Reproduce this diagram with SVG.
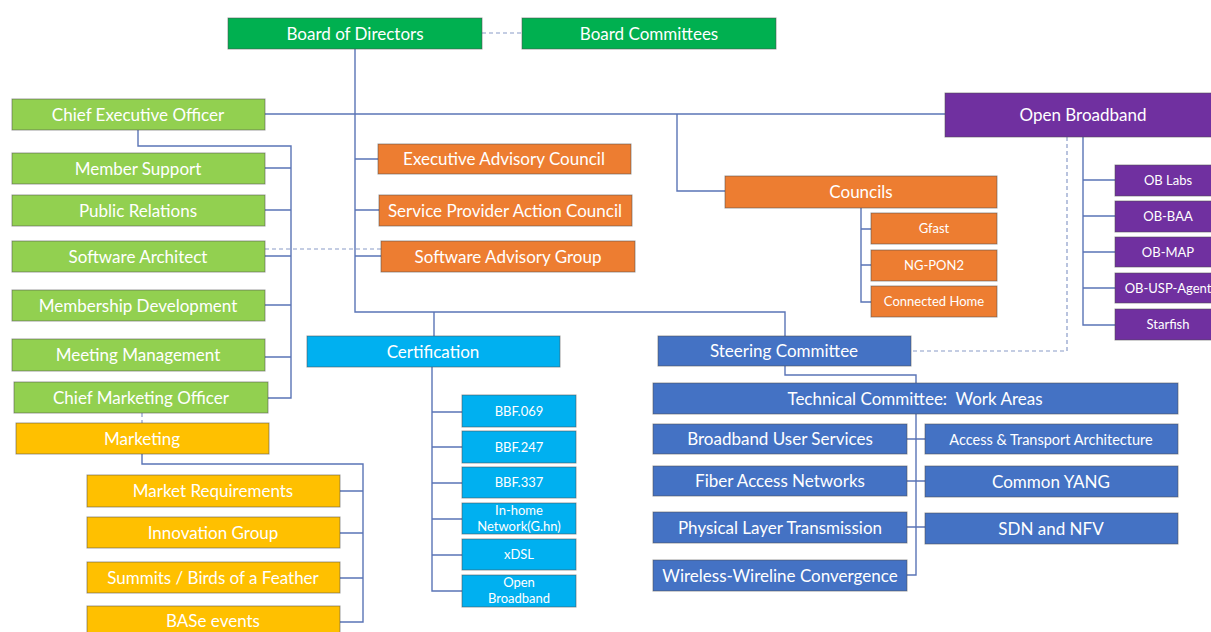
<svg xmlns="http://www.w3.org/2000/svg" width="1211" height="632" viewBox="0 0 1211 632">
<style>
.b{stroke:#4d4d4d;stroke-opacity:.55;stroke-width:1}
.g1{fill:#00b050}.g2{fill:#92d050}.or{fill:#ed7d31}.pu{fill:#7030a0}.cy{fill:#00b0f0}.bl{fill:#4472c4}.go{fill:#ffc000}
text{font-family:Lato,"Open Sans","Liberation Sans",sans-serif;fill:#ffffff;text-anchor:middle}
.t{font-size:17px}.s{font-size:13px}.m{font-size:14.5px}
.c{fill:none;stroke:#5a74b6;stroke-width:1.4}
.d{fill:none;stroke:#8a9cc8;stroke-width:1.2;stroke-dasharray:4 3}
</style>
<rect width="1211" height="632" fill="#ffffff"/>
<g id="connectors">
<path class="d" d="M482,33 H522"/>
<path class="c" d="M355,49 V312 H785 V336"/>
<path class="c" d="M434,312 V336"/>
<path class="c" d="M355,159 H378 M355,210 H379 M355,256 H381"/>
<path class="c" d="M265,114 H945"/>
<path class="c" d="M677,114 V191 H725"/>
<path class="c" d="M138,130 V146 H291 V398 H268"/>
<path class="c" d="M265,168 H291 M265,210 H291 M265,256 H291 M265,305 H291 M265,357 H291"/>
<path class="d" d="M265,249 H381"/>
<path class="d" d="M142,413 V423"/>
<path class="c" d="M142,454 V464 H363 V622 H340 M340,491 H363 M340,533 H363 M340,578 H363"/>
<path class="c" d="M861,208 V302 H871 M861,229 H871 M861,265 H871"/>
<path class="c" d="M1083,137 V325 H1115 M1083,180 H1115 M1083,216 H1115 M1083,252 H1115 M1083,288 H1115"/>
<path class="d" d="M1067,137 V351 H911"/>
<path class="c" d="M785,366 V375 H916 V575 H907 M907,439 H925 M907,481 H925 M907,527 H925"/>
<path class="c" d="M432,367 V591 H462 M432,412 H462 M432,447 H462 M432,483 H462 M432,519 H462 M432,555 H462"/>
</g>
<g id="board-of-directors"><rect class="b g1" x="228" y="18" width="254" height="31"/><text class="t" x="355" y="39.5">Board of Directors</text></g>
<g id="board-committees"><rect class="b g1" x="522" y="18" width="254" height="31"/><text class="t" x="649" y="39.5">Board Committees</text></g>
<g id="ceo"><rect class="b g2" x="12" y="99" width="253" height="31"/><text class="t" x="138" y="120.5">Chief Executive Officer</text></g>
<g id="member-support"><rect class="b g2" x="12" y="153" width="253" height="31"/><text class="t" x="138" y="174.5">Member Support</text></g>
<g id="public-relations"><rect class="b g2" x="12" y="195" width="253" height="31"/><text class="t" x="138" y="216.5">Public Relations</text></g>
<g id="software-architect"><rect class="b g2" x="12" y="241" width="253" height="31"/><text class="t" x="138" y="262.5">Software Architect</text></g>
<g id="membership-development"><rect class="b g2" x="12" y="290" width="253" height="31"/><text class="t" x="138" y="311.5">Membership Development</text></g>
<g id="meeting-management"><rect class="b g2" x="12" y="339" width="253" height="32"/><text class="t" x="138" y="361">Meeting Management</text></g>
<g id="cmo"><rect class="b g2" x="14" y="382" width="254" height="31"/><text class="t" x="141" y="403.5">Chief Marketing Officer</text></g>
<g id="marketing"><rect class="b go" x="16" y="423" width="253" height="31"/><text class="t" x="142" y="444.5">Marketing</text></g>
<g id="market-requirements"><rect class="b go" x="87" y="475" width="253" height="32"/><text class="t" x="213" y="497">Market Requirements</text></g>
<g id="innovation-group"><rect class="b go" x="87" y="517" width="253" height="31"/><text class="t" x="213" y="538.5">Innovation Group</text></g>
<g id="summits"><rect class="b go" x="87" y="562" width="253" height="31"/><text class="t" x="213" y="583.5">Summits / Birds of a Feather</text></g>
<g id="base-events"><rect class="b go" x="87" y="606" width="253" height="32"/><text class="t" x="213" y="627">BASe events</text></g>
<g id="executive-advisory-council"><rect class="b or" x="378" y="144" width="253" height="30"/><text class="t" x="504" y="165">Executive Advisory Council</text></g>
<g id="spac"><rect class="b or" x="379" y="195" width="253" height="31"/><text class="t" x="505" y="216.5">Service Provider Action Council</text></g>
<g id="software-advisory-group"><rect class="b or" x="381" y="241" width="254" height="31"/><text class="t" x="508" y="262.5">Software Advisory Group</text></g>
<g id="councils"><rect class="b or" x="725" y="176" width="272" height="32"/><text class="t" x="861" y="198">Councils</text></g>
<g id="gfast"><rect class="b or" x="871" y="213" width="126" height="31"/><text class="s" x="934" y="233">Gfast</text></g>
<g id="ng-pon2"><rect class="b or" x="871" y="250" width="126" height="31"/><text class="s" x="934" y="270">NG-PON2</text></g>
<g id="connected-home"><rect class="b or" x="871" y="286" width="126" height="31"/><text class="s" x="934" y="306">Connected Home</text></g>
<g id="open-broadband"><rect class="b pu" x="945" y="93" width="270" height="44"/><text class="t" x="1083" y="120.5">Open Broadband</text></g>
<g id="ob-labs"><rect class="b pu" x="1115" y="165" width="100" height="31"/><text class="s" x="1168" y="185">OB Labs</text></g>
<g id="ob-baa"><rect class="b pu" x="1115" y="201" width="100" height="31"/><text class="s" x="1168" y="221">OB-BAA</text></g>
<g id="ob-map"><rect class="b pu" x="1115" y="237" width="100" height="30"/><text class="s" x="1168" y="256.5">OB-MAP</text></g>
<g id="ob-usp-agent"><rect class="b pu" x="1115" y="273" width="100" height="30"/><text class="s" x="1168" y="292.5">OB-USP-Agent</text></g>
<g id="starfish"><rect class="b pu" x="1115" y="309" width="100" height="31"/><text class="s" x="1168" y="329">Starfish</text></g>
<g id="certification"><rect class="b cy" x="307" y="336" width="253" height="31"/><text class="t" x="433" y="357.5">Certification</text></g>
<g id="bbf069"><rect class="b cy" x="462" y="395" width="114" height="32"/><text class="s" x="519" y="415.5">BBF.069</text></g>
<g id="bbf247"><rect class="b cy" x="462" y="431" width="114" height="32"/><text class="s" x="519" y="451.5">BBF.247</text></g>
<g id="bbf337"><rect class="b cy" x="462" y="467" width="114" height="31"/><text class="s" x="519" y="487">BBF.337</text></g>
<g id="in-home"><rect class="b cy" x="462" y="503" width="114" height="31"/><text class="s" x="519" y="515">In-home</text><text class="s" x="519" y="531">Network(G.hn)</text></g>
<g id="xdsl"><rect class="b cy" x="462" y="539" width="114" height="31"/><text class="s" x="519" y="559">xDSL</text></g>
<g id="cert-open-broadband"><rect class="b cy" x="462" y="575" width="114" height="32"/><text class="s" x="519" y="587">Open</text><text class="s" x="519" y="603">Broadband</text></g>
<g id="steering-committee"><rect class="b bl" x="658" y="336" width="253" height="30"/><text class="t" x="784" y="357">Steering Committee</text></g>
<g id="technical-committee"><rect class="b bl" x="653" y="383" width="525" height="31"/><text class="t" x="915" y="404.5" xml:space="preserve">Technical Committee:  Work Areas</text></g>
<g id="broadband-user-services"><rect class="b bl" x="653" y="424" width="254" height="30"/><text class="t" x="780" y="445">Broadband User Services</text></g>
<g id="fiber-access-networks"><rect class="b bl" x="653" y="466" width="254" height="30"/><text class="t" x="780" y="487">Fiber Access Networks</text></g>
<g id="physical-layer"><rect class="b bl" x="653" y="512" width="254" height="31"/><text class="t" x="780" y="533.5">Physical Layer Transmission</text></g>
<g id="wireless-wireline"><rect class="b bl" x="653" y="560" width="254" height="31"/><text class="t" x="780" y="581.5">Wireless-Wireline Convergence</text></g>
<g id="access-transport"><rect class="b bl" x="925" y="424" width="253" height="30"/><text class="m" x="1051" y="444.5">Access &amp; Transport Architecture</text></g>
<g id="common-yang"><rect class="b bl" x="925" y="466" width="253" height="31"/><text class="t" x="1051" y="487.5">Common YANG</text></g>
<g id="sdn-nfv"><rect class="b bl" x="925" y="513" width="253" height="31"/><text class="t" x="1051" y="534.5">SDN and NFV</text></g>
</svg>
